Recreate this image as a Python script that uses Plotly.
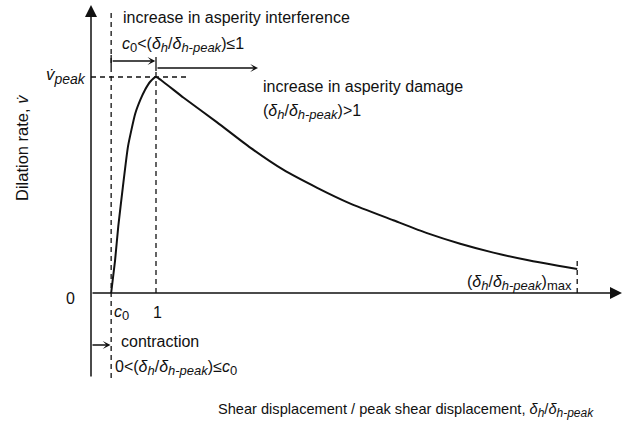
import plotly.graph_objects as go

# ---- data (normalised units: x = delta_h / delta_h-peak, y = dilation rate / peak rate)
c0 = 0.31
x_peak = 1.0
v_peak = 1.0
x_max = 7.48
curve_x = [0.31, 0.37, 0.42, 0.49, 0.57, 0.68, 0.76, 0.83, 0.91, 1.0, 1.08, 1.42, 1.94,
           2.45, 2.95, 3.48, 3.99, 4.65, 5.17, 5.68, 6.19, 6.71, 7.48]
curve_y = [0.0, 0.15, 0.31, 0.49, 0.68, 0.83, 0.895, 0.94, 0.978, 1.0, 0.985, 0.905, 0.79,
           0.673, 0.572, 0.487, 0.414, 0.337, 0.277, 0.228, 0.187, 0.153, 0.111]
tick_labels = ["0", "c", "1"]

W, H = 632, 424
X0, XU, Y0, YU = 91, 65, 293, 216  # pixel origin and pixel size of a unit


def dx(px):
    return (px - X0) / XU


def dy(py):
    return (Y0 - py) / YU


FONT = "Liberation Sans, Arial, sans-serif"
BLACK = "#111111"
DASH = "5px,4px"
FS = 16      # main text size
SS = 13      # subscript size

fig = go.Figure()
fig.add_trace(go.Scatter(x=curve_x, y=curve_y, mode="lines",
                         line=dict(color=BLACK, width=2, shape="spline", smoothing=0.5),
                         hoverinfo="skip", showlegend=False))

shapes = []
# dashed guide lines
shapes.append(dict(type="line", x0=c0, x1=c0, y0=dy(378), y1=dy(12),
                   line=dict(color=BLACK, width=1.3, dash=DASH)))
shapes.append(dict(type="line", x0=x_peak, x1=x_peak, y0=0, y1=v_peak + 0.03,
                   line=dict(color=BLACK, width=1.3, dash=DASH)))
shapes.append(dict(type="line", x0=0, x1=dx(190), y0=v_peak, y1=v_peak,
                   line=dict(color=BLACK, width=1.3, dash=DASH)))
shapes.append(dict(type="line", x0=x_max, x1=x_max, y0=0, y1=dy(257),
                   line=dict(color=BLACK, width=1.3, dash=DASH)))
# small solid tick at the peak
shapes.append(dict(type="line", x0=x_peak, x1=x_peak, y0=dy(71), y1=dy(57),
                   line=dict(color=BLACK, width=1.3)))
# short tick for the start of the interference arrow
shapes.append(dict(type="line", x0=c0, x1=c0, y0=dy(67), y1=dy(55),
                   line=dict(color=BLACK, width=1.3)))

annotations = []


def arrow(x_tail, y_tail, x_tip, y_tip, head, size, width):
    annotations.append(dict(x=x_tip, y=y_tip, ax=x_tail, ay=y_tail, xref="x", yref="y",
                            axref="x", ayref="y", text="", showarrow=True,
                            arrowhead=head, arrowsize=size, arrowwidth=width,
                            arrowcolor=BLACK, standoff=0, startstandoff=0))


# axes
arrow(0, dy(378), 0, dy(5), 2, 1.6, 1.5)
arrow(0, 0, dx(622), 0, 2, 1.6, 1.5)
# region arrows
arrow(c0, dy(61), x_peak - 0.01, dy(61), 3, 1.0, 1.3)
arrow(x_peak, dy(68), dx(258), dy(68), 3, 1.0, 1.3)
arrow(0, dy(345), c0 - 0.01, dy(345), 3, 1.0, 1.3)


def sub(s, italic=True, size=SS):
    inner = "<i>" + s + "</i>" if italic else s
    return "<sub><span style='font-size:%dpx'>%s</span></sub>" % (size, inner)


def text(px, py, s, anchor="left", size=FS, angle=0):
    annotations.append(dict(x=px / W, y=1 - py / H, xref="paper", yref="paper",
                            text=s, showarrow=False, xanchor=anchor, yanchor="middle",
                            textangle=angle, font=dict(family=FONT, size=size, color=BLACK)))


C0 = "<i>c</i>" + sub("0", italic=False)
RATIO = "(<i>δ</i>" + sub("h") + "/<i>δ</i>" + sub("h-peak") + ")"
text(121, 17, "increase in asperity interference")
text(120, 45, C0 + "<" + RATIO + "≤1")
text(88, 76, "<i>v̇</i>" + sub("peak", size=14), anchor="right", size=17)
text(261, 86, "increase in asperity damage")
text(261, 112, RATIO + ">1")
text(574, 283, RATIO + sub("max", italic=False), anchor="right")
text(70, 298, tick_labels[0], anchor="center")
text(112, 313, "<i>" + tick_labels[1] + "</i>" + sub("0", italic=False))
text(157, 312, tick_labels[2], anchor="center")
text(119, 341, "contraction")
text(113, 368, "0<" + RATIO + "≤" + C0)
text(216, 410, "Shear displacement / peak shear displacement, "
               "<i>δ</i>" + sub("h", size=12) + "/<i>δ</i>" + sub("h-peak", size=12),
     size=14.6)
text(22, 148, "Dilation rate, <i>v̇</i>", anchor="center", angle=-90, size=16.5)

fig.update_layout(
    width=W, height=H, margin=dict(l=0, r=0, t=0, b=0),
    paper_bgcolor="white", plot_bgcolor="white",
    xaxis=dict(range=[dx(0), dx(W)], visible=False, fixedrange=True),
    yaxis=dict(range=[dy(H), dy(0)], visible=False, fixedrange=True),
    shapes=shapes, annotations=annotations, showlegend=False,
)
fig.write_html("out.html", config={"displayModeBar": False},
               post_script="document.body.style.margin='0';"
                           "document.body.style.overflow='hidden';")
